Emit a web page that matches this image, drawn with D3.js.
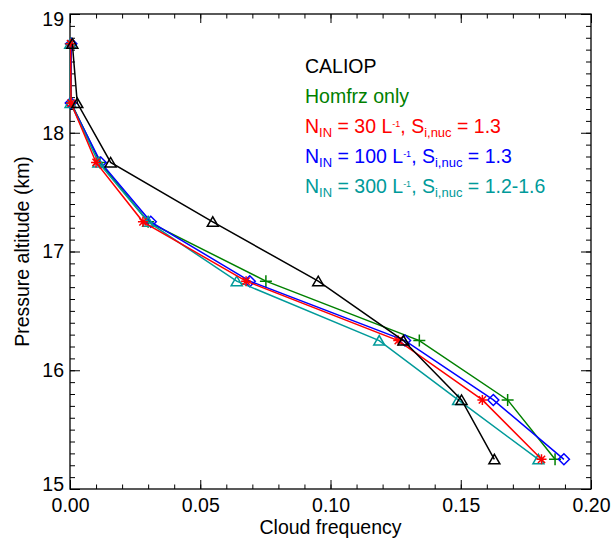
<!DOCTYPE html>
<html>
<head>
<meta charset="utf-8">
<script src="https://cdn.jsdelivr.net/npm/d3@7"></script>
<style>
  body { margin: 0; background: white; }
  text { font-family: "Liberation Sans", Arial, Helvetica, sans-serif; }
</style>
</head>
<body>
<div id="grafico"></div>
<script>
// Cloud frequency profiles vs pressure altitude

var w = 612,
    h = 538,
    margin = {top: 14, right: 21, bottom: 49, left: 70};

// altitude levels (km)
var levels = [18.75, 18.25, 17.75, 17.25, 16.75, 16.25, 15.75, 15.25];

// cloud frequency per series
var caliop = [0.0009, 0.0028, 0.0156, 0.0548, 0.0953, 0.1280, 0.1503, 0.1629],
    homfrz = [0.0003, 0.0005, 0.0115, 0.0300, 0.0752, 0.1341, 0.1680, 0.1862],
    nin30  = [0.0002, 0.0004, 0.0100, 0.0280, 0.0676, 0.1260, 0.1583, 0.1810],
    nin100 = [0.0005, 0.0003, 0.0118, 0.0310, 0.0690, 0.1286, 0.1625, 0.1896],
    nin300 = [0.0001, 0.0002, 0.0109, 0.0300, 0.0640, 0.1187, 0.1490, 0.1798];

var xMajor = [0, 0.05, 0.10, 0.15, 0.20],
    yMajor = [15, 16, 17, 18, 19];

// legend text pieces: [text, "", "sub" or "sup"]
var legCaliop = [["CALIOP", ""]],
    legHomfrz = [["Homfrz only", ""]],
    leg30  = [["N", ""], ["IN", "sub"], [" = 30 L", ""], ["-1", "sup"], [", S", ""], ["i,nuc", "sub"], [" = 1.3", ""]],
    leg100 = [["N", ""], ["IN", "sub"], [" = 100 L", ""], ["-1", "sup"], [", S", ""], ["i,nuc", "sub"], [" = 1.3", ""]],
    leg300 = [["N", ""], ["IN", "sub"], [" = 300 L", ""], ["-1", "sup"], [", S", ""], ["i,nuc", "sub"], [" = 1.2-1.6", ""]];

var series = [
    {values: homfrz, color: "#008000", symbol: "plus",     legend: legHomfrz},
    {values: nin100, color: "#0000ff", symbol: "diamond",  legend: leg100},
    {values: nin300, color: "#009a9a", symbol: "triangle", legend: leg300},
    {values: nin30,  color: "#ff0000", symbol: "asterisk", legend: leg30},
    {values: caliop, color: "#000000", symbol: "triangle", legend: legCaliop}
];
var legendOrder = [4, 0, 3, 1, 2];

var svg = d3.select("#grafico")
            .append("svg")
            .attr("width", w)
            .attr("height", h)
            .style("background-color", "white");

var width = w - margin.left - margin.right,
    height = h - margin.top - margin.bottom,
    g = svg.append("g").attr("transform", "translate(" + margin.left + "," + margin.top + ")");

var x = d3.scaleLinear().domain([0, 0.2]).range([0, width]),
    y = d3.scaleLinear().domain([15, 19]).range([height, 0]);

/* Ejes: marcas en los cuatro lados, hacia dentro */
function styleAxis(sel) {
    sel.select(".domain").remove();
    sel.selectAll("line").attr("stroke", "#000").attr("stroke-width", 1);
    sel.selectAll("text").attr("fill", "#000").style("font-size", "19.5px");
}

var xMinor = d3.range(0, 0.2001, 0.01),
    yMinor = d3.range(15, 19.001, 0.1);

g.append("g").attr("transform", "translate(0," + height + ")")
    .call(d3.axisBottom(x).tickValues(xMinor).tickSize(-4.5).tickSizeOuter(0).tickFormat(""))
    .call(styleAxis);
g.append("g").attr("transform", "translate(0," + height + ")")
    .call(d3.axisBottom(x).tickValues(xMajor).tickSize(-9).tickSizeOuter(0).tickPadding(9.5).tickFormat(d3.format(".2f")))
    .call(styleAxis);
g.append("g")
    .call(d3.axisTop(x).tickValues(xMinor).tickSize(-4.5).tickSizeOuter(0).tickFormat(""))
    .call(styleAxis);
g.append("g")
    .call(d3.axisTop(x).tickValues(xMajor).tickSize(-9).tickSizeOuter(0).tickFormat(""))
    .call(styleAxis);

g.append("g")
    .call(d3.axisLeft(y).tickValues(yMinor).tickSize(-5).tickSizeOuter(0).tickFormat(""))
    .call(styleAxis);
var yAxisG = g.append("g")
    .call(d3.axisLeft(y).tickValues(yMajor).tickSize(-10).tickSizeOuter(0).tickPadding(6).tickFormat(d3.format("d")))
    .call(styleAxis);
// etiquetas extremas metidas hacia dentro, como en IDL
yAxisG.selectAll(".tick text")
    .attr("transform", function (d) { return d === 19 ? "translate(0,5)" : (d === 15 ? "translate(0,-4.5)" : null); });

g.append("g").attr("transform", "translate(" + width + ",0)")
    .call(d3.axisRight(y).tickValues(yMinor).tickSize(-5).tickSizeOuter(0).tickFormat(""))
    .call(styleAxis);
g.append("g").attr("transform", "translate(" + width + ",0)")
    .call(d3.axisRight(y).tickValues(yMajor).tickSize(-10).tickSizeOuter(0).tickFormat(""))
    .call(styleAxis);

// quitar textos vacíos de los ejes sin etiquetas
g.selectAll(".tick text").filter(function () { return this.textContent === ""; }).remove();

g.append("rect")
    .attr("width", width)
    .attr("height", height)
    .attr("fill", "none")
    .attr("stroke", "#000")
    .attr("stroke-width", 1.3);

/* Títulos de ejes */
g.append("text")
    .attr("x", width / 2)
    .attr("y", height + 45)
    .attr("text-anchor", "middle")
    .style("font-size", "19.5px")
    .text("Cloud frequency");

g.append("text")
    .attr("transform", "translate(" + (-41) + "," + (height / 2) + ") rotate(-90)")
    .attr("text-anchor", "middle")
    .style("font-size", "19.5px")
    .text("Pressure altitude (km)");

/* Símbolos */
function symbolPath(type) {
    if (type === "plus") return "M-6,0H6M0,-6V6";
    if (type === "asterisk") return "M-5,0H5M0,-5V5M-3.6,-3.6L3.6,3.6M-3.6,3.6L3.6,-3.6";
    if (type === "diamond") return "M0,-5.5L5.5,0L0,5.5L-5.5,0Z";
    return "M-5.5,4.5L0,-5L5.5,4.5Z"; // triangle
}

var line = d3.line()
    .x(function (d) { return x(d[0]); })
    .y(function (d) { return y(d[1]); });

series.forEach(function (s) {
    var pts = s.values.map(function (v, i) { return [v, levels[i]]; });
    g.append("path")
        .datum(pts)
        .attr("d", line)
        .attr("fill", "none")
        .attr("stroke", s.color)
        .attr("stroke-width", 1.5);
    g.selectAll(null)
        .data(pts)
        .enter()
        .append("path")
        .attr("transform", function (d) { return "translate(" + x(d[0]) + "," + y(d[1]) + ")"; })
        .attr("d", symbolPath(s.symbol))
        .attr("fill", "none")
        .attr("stroke", s.color)
        .attr("stroke-width", 1.5);
});

/* Leyenda: subíndices y superíndices con dy relativo */
var shifts = {"": 0, "sub": 4, "sup": -6},
    sizes = {"": "19.5px", "sub": "13px", "sup": "9px"};

legendOrder.forEach(function (k, i) {
    var s = series[k];
    var t = svg.append("text")
        .attr("x", 305)
        .attr("y", 73 + i * 30)
        .attr("fill", s.color)
        .style("font-size", "19.5px");
    var cur = 0;
    s.legend.forEach(function (p) {
        var sh = shifts[p[1]];
        t.append("tspan")
            .attr("dy", sh - cur)
            .style("font-size", sizes[p[1]])
            .text(p[0]);
        cur = sh;
    });
});
</script>
</body>
</html>
